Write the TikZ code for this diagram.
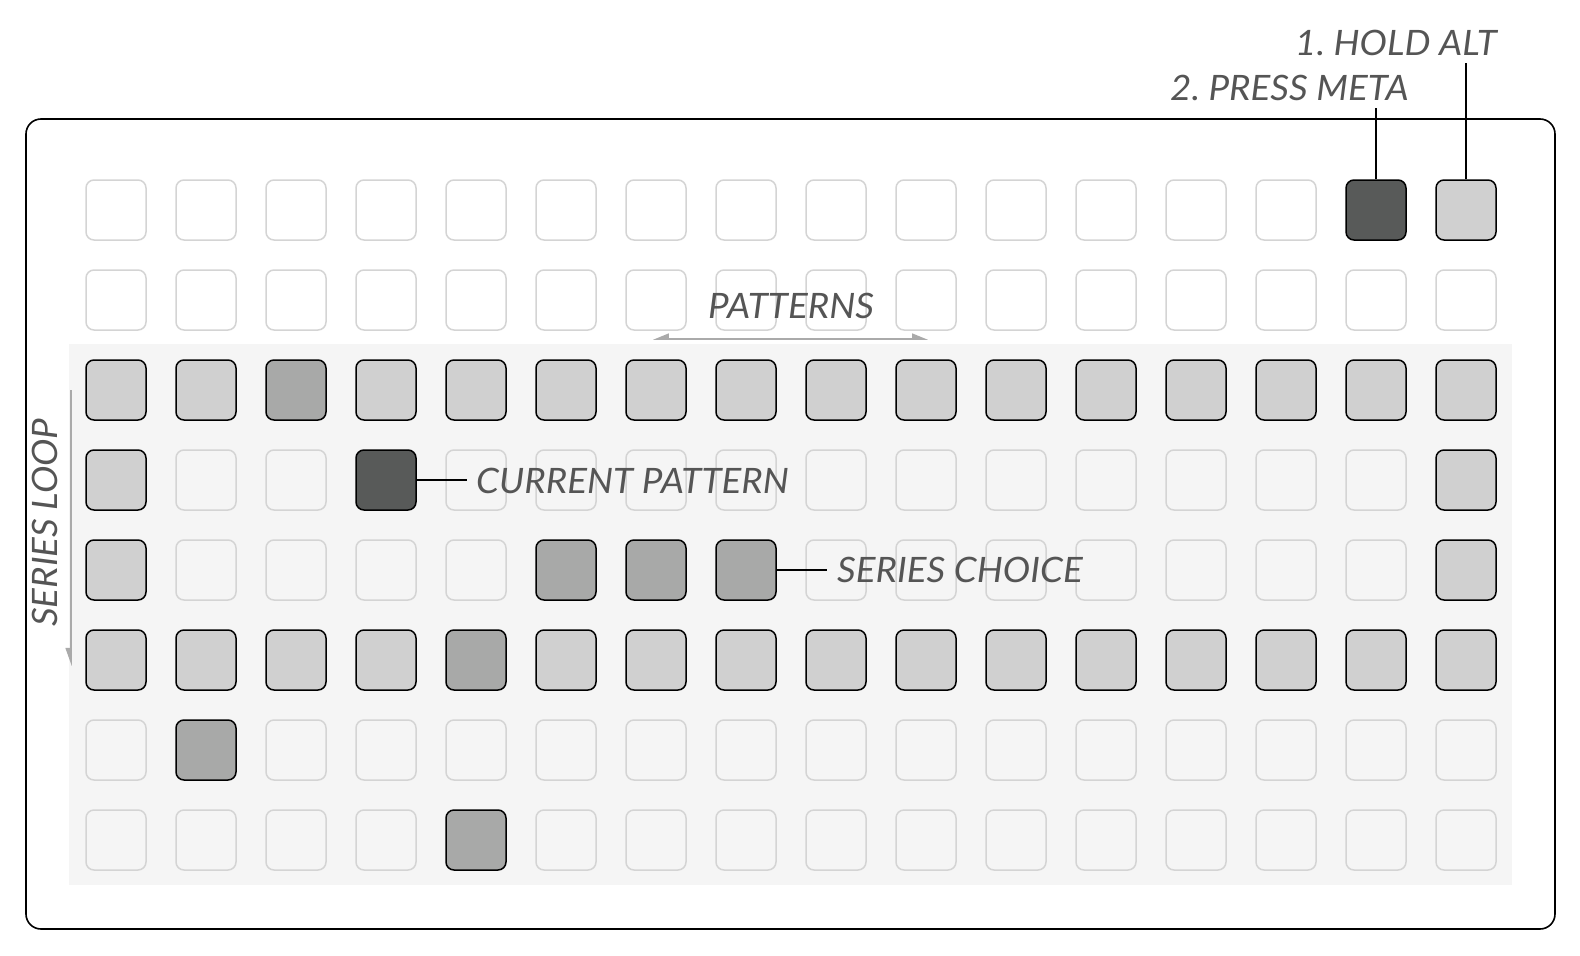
\documentclass[tikz,border=0pt]{standalone}
\usepackage{fontspec}
\usetikzlibrary{arrows.meta}
\newfontfamily\lblfont{Lato}[FakeStretch=1.05]
\definecolor{txtgray}{HTML}{555555}
\definecolor{padline}{HTML}{D4D4D4}
\definecolor{padlight}{HTML}{D0D0D0}
\definecolor{padmid}{HTML}{A8A9A8}
\definecolor{paddark}{HTML}{585A59}
\definecolor{panelbg}{HTML}{F5F5F5}
\definecolor{arrowgray}{HTML}{AAAAAA}
\tikzset{
  pad/.style={rectangle, rounded corners=8pt, minimum size=60pt, inner sep=0pt, line width=1.5pt},
  kE/.style={draw=padline, fill=white},
  kP/.style={draw=padline},
  kL/.style={draw=black, fill=padlight},
  kM/.style={draw=black, fill=padmid},
  kD/.style={draw=black, fill=paddark},
  lbl/.style={font=\lblfont\itshape\fontsize{35}{40}\selectfont, text=txtgray, inner sep=0pt},
  lead/.style={draw=black, line width=1.2pt},
  garrow/.style={draw=arrowgray, line width=1.5pt},
}
\begin{document}
\begin{tikzpicture}[x=1pt,y=-1pt]
\useasboundingbox (0,0) rectangle (1580,956);
\draw[line width=1.6pt, rounded corners=15pt] (26,119) rectangle (1555,929);
\fill[panelbg] (69,344) rectangle (1512,885);
\foreach \row [count=\j from 0] in {
  {E,E,E,E,E,E,E,E,E,E,E,E,E,E,D,L},
  {E,E,E,E,E,E,E,E,E,E,E,E,E,E,E,E},
  {L,L,M,L,L,L,L,L,L,L,L,L,L,L,L,L},
  {L,P,P,D,P,P,P,P,P,P,P,P,P,P,P,L},
  {L,P,P,P,P,M,M,M,P,P,P,P,P,P,P,L},
  {L,L,L,L,M,L,L,L,L,L,L,L,L,L,L,L},
  {P,M,P,P,P,P,P,P,P,P,P,P,P,P,P,P},
  {P,P,P,P,M,P,P,P,P,P,P,P,P,P,P,P}} {
  \foreach \s [count=\i from 0] in \row {
    \node[pad, k\s] (c\i-\j) at ({116+90*\i},{210+90*\j}) {};
  }
}
% top labels
\node[lbl, anchor=base west] (holdalt) at (1295,55) {1.\kern-3pt{} HOLD ALT};
\node[lbl, anchor=base west] (pressmeta) at (1170,100) {2.\kern-3pt{} PRESS META};
\coordinate (holdend) at (1466,63);
\coordinate (metaend) at (1376,108);
\draw[lead] (c15-0.north) -- (holdend);
\draw[lead] (c14-0.north) -- (metaend);
% patterns
\node[lbl, anchor=base west] (patterns) at (708,318) {PATTERNS};
\coordinate (patL) at (653,339);
\coordinate (patR) at (928,339);
\draw[garrow, {Stealth[harpoon,right,inset=0pt,length=14pt,width=11pt]}-{Stealth[harpoon,left,inset=0pt,length=14pt,width=11pt]}] (patL) -- (patR);
% series loop
\node[lbl, anchor=base west, rotate=90] (loop) at (57,627) {SERIES LOOP};
\coordinate (loopT) at (71,390);
\coordinate (loopB) at (71,666);
\draw[garrow, -{Stealth[harpoon,right,inset=0pt,length=16pt,width=11pt]}] (loopT) -- (loopB);
% current pattern
\coordinate (curend) at (467,480);
\draw[lead] (c3-3.east) -- (curend);
\node[lbl, anchor=base west] (current) at (476,493) {CURRENT PATTERN};
% series choice
\coordinate (serend) at (827,570);
\draw[lead] (c7-4.east) -- (serend);
\node[lbl, anchor=base west] (choice) at (837,582) {SERIES CHOICE};
\end{tikzpicture}
\end{document}
